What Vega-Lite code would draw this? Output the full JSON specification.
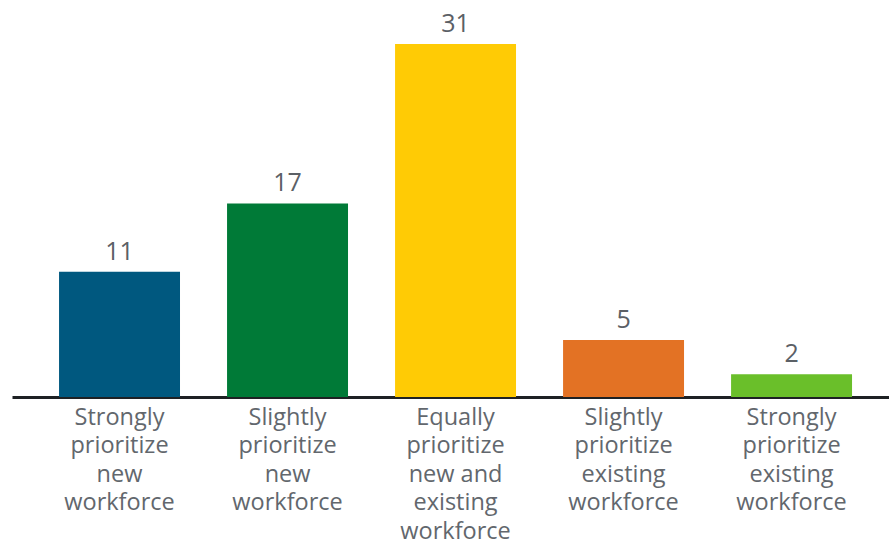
{
  "$schema": "https://vega.github.io/schema/vega-lite/v6.json",
  "width": 877,
  "height": 397,
  "autosize": {"type": "none"},
  "padding": {"left": 12, "top": 0, "right": 0, "bottom": 144},
  "background": "white",
  "config": {"view": {"stroke": null}},
  "data": {
    "values": [
      {"category": "Strongly|prioritize|new|workforce", "value": 11, "color": "#00587f"},
      {"category": "Slightly|prioritize|new|workforce", "value": 17, "color": "#007a37"},
      {"category": "Equally|prioritize|new and|existing|workforce", "value": 31, "color": "#ffcb05"},
      {"category": "Slightly|prioritize|existing|workforce", "value": 5, "color": "#e37224"},
      {"category": "Strongly|prioritize|existing|workforce", "value": 2, "color": "#6abf2a"}
    ]
  },
  "encoding": {
    "x": {
      "field": "category",
      "type": "nominal",
      "sort": null,
      "scale": {"paddingInner": 0.28, "paddingOuter": 0.25, "align": 0.56},
      "axis": {
        "title": null,
        "labelAngle": 0,
        "labelExpr": "split(datum.label, '|')",
        "labelFont": "Open Sans",
        "labelFontSize": 23.5,
        "labelLineHeight": 28.6,
        "labelColor": "#62676d",
        "labelPadding": 8,
        "ticks": false,
        "domainColor": "#1e2124",
        "domainWidth": 3,
        "labelBaseline": "top"
      }
    },
    "y": {
      "field": "value",
      "type": "quantitative",
      "scale": {"domain": [0, 34.86], "nice": false},
      "axis": null
    }
  },
  "layer": [
    {
      "mark": {"type": "bar"},
      "encoding": {"color": {"field": "color", "type": "nominal", "scale": null}}
    },
    {
      "mark": {"type": "text", "baseline": "bottom", "dy": -7, "font": "Open Sans", "fontSize": 25, "color": "#5b6066"},
      "encoding": {"text": {"field": "value", "type": "quantitative"}}
    }
  ]
}
